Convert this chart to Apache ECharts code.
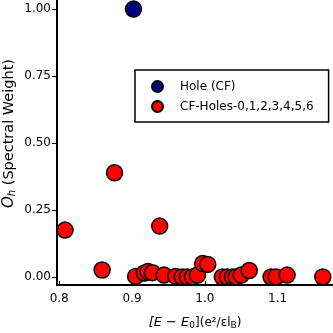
<!DOCTYPE html>
<html>
<head>
<meta charset="utf-8">
<script src="https://cdn.jsdelivr.net/npm/echarts@6/dist/echarts.min.js"></script>
<style>
  html, body { margin: 0; padding: 0; background: #fff; }
  #chart { width: 333px; height: 333px; }
</style>
</head>
<body>
<div id="chart"></div>
<script>
// hole (CF) point
const holeX = [0.902];
const holeY = [1.0];

// CF-Holes-0..6 points
const cfX = [0.808, 0.859, 0.876, 0.938, 0.905, 0.917, 0.922, 0.928, 0.944, 0.960, 0.969,
  0.976, 0.983, 0.990, 0.997, 1.004, 1.024, 1.031, 1.038, 1.043, 1.050, 1.061,
  1.091, 1.098, 1.113, 1.162];
const cfY = [0.175, 0.026, 0.389, 0.19, 0.002, 0.015, 0.02, 0.016, 0.007, 0.002, 0.0,
  0.0, 0.0, 0.007, 0.05, 0.047, 0.0, 0.0, 0.0, 0.0, 0.007, 0.024,
  0.0, 0.0, 0.007, 0.0];

const yTicks = [0.0, 0.25, 0.5, 0.75, 1.0];
const xTicks = [0.8, 0.9, 1.0, 1.1];

const zip = (xs, ys) => xs.map((x, i) => [x, ys[i]]);
const FONT = "DejaVu Sans";

const chart = echarts.init(document.getElementById("chart"), null, { renderer: "canvas" });

chart.setOption({
  animation: false,
  backgroundColor: "#fff",
  textStyle: { fontFamily: FONT },
  grid: { left: 57, right: 0, top: 0, bottom: 48, containLabel: false, outerBoundsMode: "none" },
  legend: {
    left: 135,
    top: 70,
    orient: "vertical",
    padding: [10, 15, 9, 16],
    itemGap: 7,
    itemWidth: 11,
    itemHeight: 11,
    borderColor: "#000",
    borderWidth: 1.5,
    borderRadius: 0,
    textStyle: { fontFamily: FONT, fontSize: 12, color: "#000", padding: [0, 0, 0, 12] },
    data: [
      { name: "Hole (CF)", icon: "circle" },
      { name: "CF-Holes-0,1,2,3,4,5,6", icon: "circle" }
    ]
  },
  xAxis: {
    type: "value",
    min: 0.797,
    max: 1.176,
    interval: 0.1,
    name: "{i|[E − E}{s|0}{n|]}{n|(e²/εl}{s|B}{n|)}",
    nameLocation: "middle",
    nameGap: 30,
    nameMoveOverlap: false,
    nameTextStyle: {
      rich: {
        i: { fontFamily: FONT, fontSize: 13, fontStyle: "italic", color: "#000" },
        n: { fontFamily: FONT, fontSize: 12, color: "#000" },
        s: { fontFamily: FONT, fontSize: 9, color: "#000", verticalAlign: "bottom", padding: [6, 0, 0, 0] }
      }
    },
    axisLine: { show: true, onZero: false, lineStyle: { color: "#000", width: 2 } },
    axisTick: { show: true, inside: true, length: 4, customValues: xTicks, lineStyle: { color: "#000" } },
    splitLine: { show: false },
    axisLabel: {
      fontFamily: FONT, fontSize: 12, color: "#000", margin: 8,
      customValues: xTicks,
      formatter: (v) => v.toFixed(1)
    }
  },
  yAxis: {
    type: "value",
    min: -0.03,
    max: 1.034,
    name: "{o|O}{s|h}{n| (Spectral Weight)}",
    nameLocation: "middle",
    nameGap: 40,
    nameMoveOverlap: false,
    nameRotate: 90,
    nameTextStyle: {
      padding: [0, 0, 0, 18],
      rich: {
        o: { fontFamily: FONT, fontSize: 15, fontStyle: "italic", color: "#000" },
        n: { fontFamily: FONT, fontSize: 14.5, color: "#000" },
        s: { fontFamily: FONT, fontSize: 10, fontStyle: "italic", color: "#000", verticalAlign: "bottom", padding: [6, 0, 0, 0] }
      }
    },
    axisLine: { show: true, onZero: false, lineStyle: { color: "#000", width: 2 } },
    axisTick: { show: true, length: 5, customValues: yTicks, lineStyle: { color: "#000" } },
    splitLine: { show: false },
    axisLabel: {
      fontFamily: FONT, fontSize: 12, color: "#000", margin: 6,
      customValues: yTicks,
      formatter: (v) => v.toFixed(2)
    }
  },
  series: [
    {
      name: "Hole (CF)",
      type: "scatter",
      symbol: "circle",
      symbolSize: 16,
      itemStyle: { color: "#00007f", borderColor: "#000", borderWidth: 1.5, opacity: 1 },
      data: zip(holeX, holeY)
    },
    {
      name: "CF-Holes-0,1,2,3,4,5,6",
      type: "scatter",
      symbol: "circle",
      symbolSize: 16,
      itemStyle: { color: "#ff0000", borderColor: "#000", borderWidth: 1.5, opacity: 1 },
      data: zip(cfX, cfY)
    }
  ]
});
</script>
</body>
</html>
